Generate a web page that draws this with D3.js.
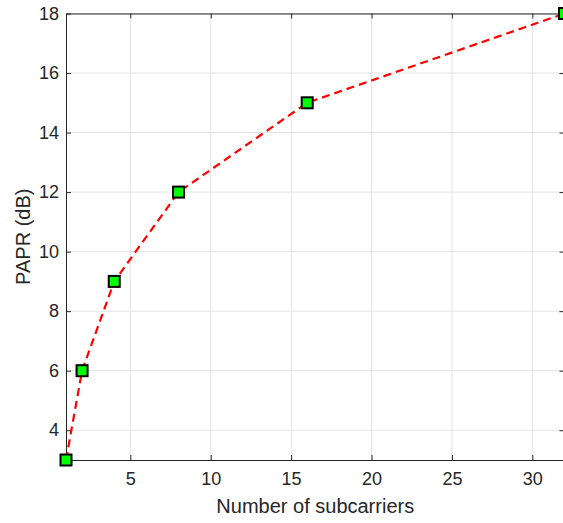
<!DOCTYPE html>
<html>
<head>
<meta charset="utf-8">
<script src="https://cdn.jsdelivr.net/npm/d3@7"></script>
<style>
  html, body { margin: 0; padding: 0; background: #fff; }
  svg { display: block; font-family: "Liberation Sans", Arial, Helvetica, sans-serif; }
</style>
</head>
<body>
<svg id="chart" width="563" height="523"></svg>
<script>
const subcarriers = [1, 2, 4, 8, 16, 32];
const paprDb = [3, 6, 9, 12, 15, 18];
const xTicks = [5, 10, 15, 20, 25, 30];
const yTicks = [4, 6, 8, 10, 12, 14, 16, 18];
const xLabel = "Number of subcarriers";
const yLabel = "PAPR (dB)";

(function () {
const svg = d3.select("#chart");
const mLeft = 66, mRight = 564.5, mTop = 13.5, mBottom = 460;

const x = d3.scaleLinear().domain([1, 32]).range([mLeft, mRight]);
const y = d3.scaleLinear().domain([3, 18]).range([mBottom, mTop]);

const axisColor = "#262626";
const gridColor = "#e3e3e3";

// grid
const g = svg.append("g");
g.selectAll(".gx").data(xTicks).enter().append("line")
  .attr("x1", d => x(d)).attr("x2", d => x(d))
  .attr("y1", mTop).attr("y2", mBottom)
  .attr("stroke", gridColor).attr("stroke-width", 1);
g.selectAll(".gy").data(yTicks).enter().append("line")
  .attr("y1", d => y(d)).attr("y2", d => y(d))
  .attr("x1", mLeft).attr("x2", mRight)
  .attr("stroke", gridColor).attr("stroke-width", 1);

// axes with inward ticks
const tickLen = 5;
const fontTick = 18;
const bottomAxis = d3.axisBottom(x).tickValues(xTicks).tickSizeInner(-tickLen).tickSizeOuter(0).tickPadding(12.5);
const topAxis = d3.axisTop(x).tickValues(xTicks).tickSizeInner(-tickLen).tickSizeOuter(0).tickFormat("");
const leftAxis = d3.axisLeft(y).tickValues(yTicks).tickSizeInner(-tickLen).tickSizeOuter(0).tickPadding(7);
const rightAxis = d3.axisRight(y).tickValues(yTicks).tickSizeInner(-tickLen).tickSizeOuter(0).tickFormat("");

function styleAxis(sel) {
  sel.select(".domain").attr("stroke", axisColor).attr("stroke-width", 1);
  sel.selectAll(".tick line").attr("stroke", axisColor).attr("stroke-width", 1);
  sel.selectAll(".tick text").attr("fill", axisColor).style("font-size", fontTick + "px")
    .style("font-family", '"Liberation Sans", Arial, Helvetica, sans-serif');
}
svg.append("g").attr("transform", `translate(0,${mBottom})`).call(bottomAxis).call(styleAxis);
svg.append("g").attr("transform", `translate(0,${mTop})`).call(topAxis).call(styleAxis);
svg.append("g").attr("transform", `translate(${mLeft},0)`).call(leftAxis).call(styleAxis);
svg.append("g").attr("transform", `translate(${mRight},0)`).call(rightAxis).call(styleAxis);

// data
const data = subcarriers.map((s, i) => ({ s, p: paprDb[i] }));
const line = d3.line().x(d => x(d.s)).y(d => y(d.p));
svg.append("path").datum(data).attr("d", line)
  .attr("fill", "none").attr("stroke", "#ff0000").attr("stroke-width", 2.2)
  .attr("stroke-dasharray", "8,5");

const ms = 11;
svg.selectAll(".mk").data(data).enter().append("rect")
  .attr("x", d => x(d.s) - ms / 2).attr("y", d => y(d.p) - ms / 2)
  .attr("width", ms).attr("height", ms)
  .attr("fill", "#00ff00").attr("stroke", "#000").attr("stroke-width", 2);

// labels
svg.append("text").attr("x", (mLeft + mRight) / 2).attr("y", 512.5)
  .attr("text-anchor", "middle").attr("fill", axisColor)
  .style("font-size", "20px").text(xLabel);
svg.append("text").attr("transform", `translate(29.5,${(mTop + mBottom) / 2}) rotate(-90)`)
  .attr("text-anchor", "middle").attr("fill", axisColor)
  .style("font-size", "20px").text(yLabel);
})();
</script>
</body>
</html>
